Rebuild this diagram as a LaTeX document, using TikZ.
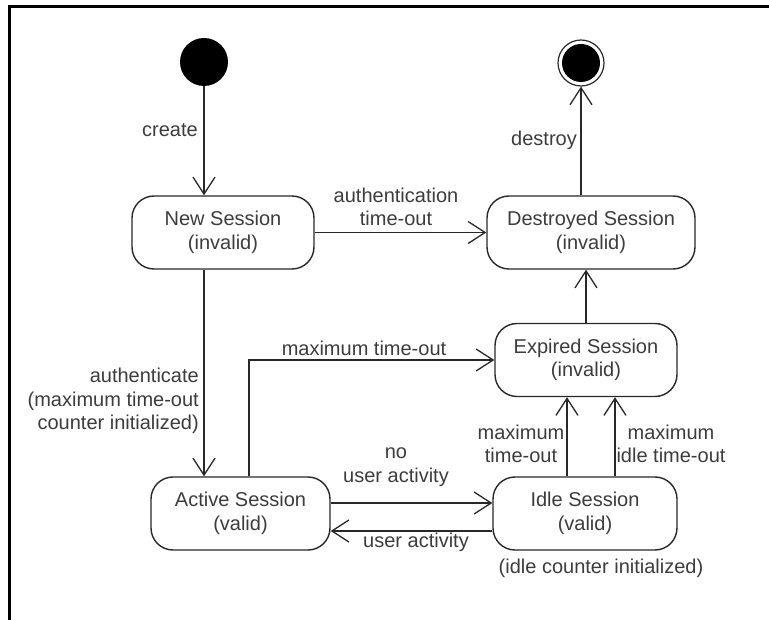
\documentclass[tikz,border=0pt]{standalone}
\usepackage{fontspec}
\setmainfont{Liberation Sans}
\usetikzlibrary{arrows.meta}
\definecolor{ink}{RGB}{40,40,40}
\definecolor{txt}{RGB}{60,60,60}
\begin{document}
\begin{tikzpicture}[x=1pt,y=-1pt,
  font=\fontsize{20}{23.5}\selectfont,
  state/.style={draw=ink,line width=1.4pt,rounded corners=22pt,
    minimum height=73pt,align=center,text=txt,inner sep=0pt},
  lbl/.style={text=txt,align=center,inner sep=0pt},
  trans/.style={draw=ink,line width=1.3pt,
    -{Straight Barb[length=17pt,width=22pt,line width=1.3pt]}},
  pseudo/.style={circle,fill=black,inner sep=0pt}]
  \useasboundingbox (0,0) rectangle (769,620);
  % frame
  \draw[line width=3pt,black] (9,620) -- (9,7) -- (769,7);

  % pseudo states
  \node[pseudo,minimum size=48pt] (init) at (204,62) {};
  \node[circle,draw=ink,line width=1.2pt,minimum size=46pt,inner sep=0pt] (final) at (581,63) {};
  \node[pseudo,minimum size=38pt] (finalin) at (581,63) {};

  % states
  \node[state,minimum width=182pt] (new) at (223,232.5) {New Session\\(invalid)};
  \node[state,minimum width=208pt] (destroyed) at (591,232.5) {Destroyed Session\\(invalid)};
  \node[state,minimum width=182pt] (expired) at (586,360) {Expired Session\\(invalid)};
  \node[state,minimum width=179pt] (active) at (240.5,513.5) {Active Session\\(valid)};
  \node[state,minimum width=184pt] (idle) at (585,513.5) {Idle Session\\(valid)};

  % transitions
  \draw[trans] (init.south) -- (init |- new.north);
  \draw[trans] (new.east) -- (destroyed.west);
  \draw[trans] (new.south -| init) -- (init |- active.north);
  \draw[trans] ([xshift=8.5pt]active.north) |- (expired.west);
  \draw[trans] ([yshift=10.5pt]active.east) -- ([yshift=10.5pt]active.east -| idle.west);
  \draw[trans] ([yshift=-17.5pt]idle.west) -- ([yshift=-17.5pt]idle.west -| active.east);
  \draw[trans] ([xshift=-18pt]idle.north) -- ([xshift=-18pt]idle.north |- expired.south);
  \draw[trans] ([xshift=30pt]idle.north) -- ([xshift=30pt]idle.north |- expired.south);
  \draw[trans] (expired.north) -- (expired.north |- destroyed.south);
  \draw[trans] (final |- destroyed.north) -- (final.south);

  % transition labels
  \node[lbl,anchor=east] (lcreate) at (198,130) {create};
  \node[lbl,anchor=east] (ldestroy) at (577,140) {destroy};
  \node[lbl] (lauthto) at (396,207) {authentication\\time-out};
  \node[lbl,anchor=east,align=right] (lauth) at (199,401) {authenticate\\(maximum time-out\\counter initialized)};
  \node[lbl] (lmaxto) at (364,348) {maximum time-out};
  \node[lbl] (lnoact) at (396,467) {no\\user activity};
  \node[lbl] (lact) at (416,542) {user activity};
  \node[lbl] (lmaxto2) at (521,444) {maximum\\time-out};
  \node[lbl] (lidleto) at (671,444) {maximum\\idle time-out};
  \node[lbl] (lidleinit) at (601,568) {(idle counter initialized)};
\end{tikzpicture}
\end{document}
